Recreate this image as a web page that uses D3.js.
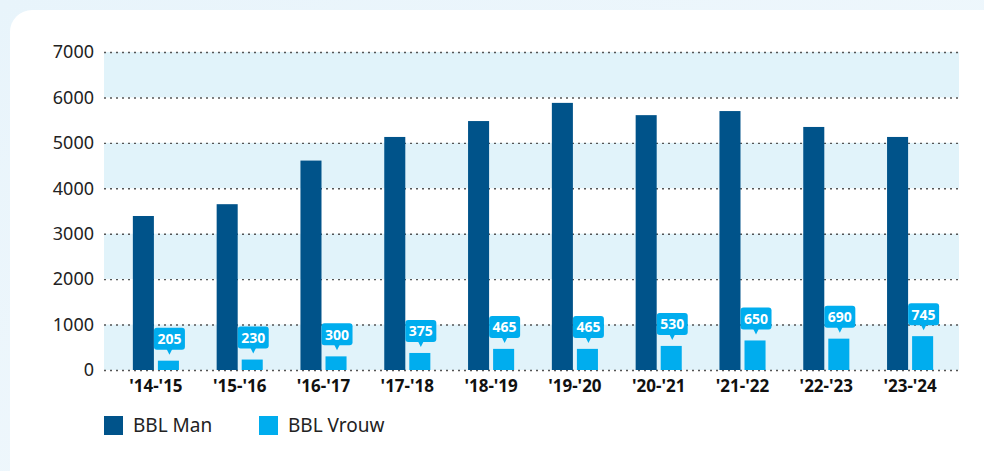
<!DOCTYPE html>
<html>
<head>
<meta charset="utf-8">
<script src="https://cdn.jsdelivr.net/npm/d3@7"></script>
<style>
  body { margin: 0; background: #eef7fc; font-family: "Noto Sans", sans-serif; }
</style>
</head>
<body>
<div id="chart"></div>
<script>
// seasons on the x axis, two series per season
const seasons = ["'14-'15", "'15-'16", "'16-'17", "'17-'18", "'18-'19", "'19-'20", "'20-'21", "'21-'22", "'22-'23", "'23-'24"];
const bblMan = [3390, 3650, 4610, 5130, 5480, 5880, 5610, 5700, 5350, 5130];
const bblVrouw = [205, 230, 300, 375, 465, 465, 530, 650, 690, 745];
const seriesNames = ["BBL Man", "BBL Vrouw"];
const yTicks = [0, 1000, 2000, 3000, 4000, 5000, 6000, 7000];

const W = 984, H = 471;
const colors = {"BBL Man": "#00538a", "BBL Vrouw": "#00adee"};

const svg = d3.select("#chart").append("svg")
    .attr("width", W)
    .attr("height", H);

// page background + white card
const defs = svg.append("defs");
const grad = defs.append("linearGradient").attr("id", "bg").attr("x1", 0).attr("y1", 0).attr("x2", 1).attr("y2", 1);
grad.append("stop").attr("offset", "0%").attr("stop-color", "#e8f4fb");
grad.append("stop").attr("offset", "100%").attr("stop-color", "#f3f9fd");
svg.append("rect").attr("width", W).attr("height", H).attr("fill", "url(#bg)");
svg.append("rect")
    .attr("x", 10).attr("y", 10)
    .attr("width", 1000).attr("height", 500)
    .attr("rx", 22)
    .attr("fill", "#ffffff");

// plot area
const plot = {left: 104, right: 959, top: 52, bottom: 370};

const y = d3.scaleLinear()
    .domain([0, 7000])
    .range([plot.bottom, plot.top]);

const x0 = d3.scaleBand()
    .domain(seasons)
    .range([114, 952])
    .paddingInner(0.45)
    .paddingOuter(0.225);

const x1 = d3.scaleBand()
    .domain(seriesNames)
    .range([0, x0.bandwidth()])
    .paddingInner(0.16);

// alternating shaded bands
const bands = d3.pairs(yTicks).filter((p, i) => i % 2 === 0);
svg.append("g").selectAll("rect")
    .data(bands)
    .join("rect")
    .attr("x", plot.left)
    .attr("width", plot.right - plot.left)
    .attr("y", d => y(d[1]))
    .attr("height", d => y(d[0]) - y(d[1]))
    .attr("fill", "#e1f3fa");

// y axis with dotted gridlines
const yAxis = svg.append("g")
    .attr("transform", `translate(${plot.left},0)`)
    .call(d3.axisLeft(y).tickValues(yTicks).tickFormat(d3.format("d")).tickSize(-(plot.right - plot.left)).tickPadding(10));
yAxis.select(".domain").remove();
yAxis.selectAll(".tick line")
    .attr("stroke", "#555")
    .attr("stroke-width", 1.4)
    .attr("stroke-dasharray", "2,4");
yAxis.selectAll(".tick text")
    .attr("fill", "#222")
    .style("font-size", "18px")
    .style("font-family", "Noto Sans");

// x axis labels
const xAxis = svg.append("g")
    .attr("transform", `translate(0,${plot.bottom})`)
    .call(d3.axisBottom(x0).tickSize(0).tickPadding(10));
xAxis.select(".domain").remove();
xAxis.selectAll(".tick text")
    .attr("fill", "#111")
    .style("font-size", "17px")
    .style("font-weight", "bold")
    .style("font-family", "Noto Sans");

// bars
const rows = seasons.map((s, i) => ({season: s, "BBL Man": bblMan[i], "BBL Vrouw": bblVrouw[i]}));

const groups = svg.append("g").selectAll("g")
    .data(rows)
    .join("g")
    .attr("transform", d => `translate(${x0(d.season)},0)`);

groups.selectAll("rect")
    .data(d => seriesNames.map(k => ({key: k, value: d[k]})))
    .join("rect")
    .attr("x", d => x1(d.key))
    .attr("width", x1.bandwidth())
    .attr("y", d => y(d.value))
    .attr("height", d => y(0) - y(d.value))
    .attr("fill", d => colors[d.key]);

// callout labels over the Vrouw bars
const callouts = groups.append("g")
    .attr("transform", d => `translate(${x1("BBL Vrouw") + x1.bandwidth() / 2 + 1},${y(d["BBL Vrouw"]) - 5})`);

callouts.append("rect")
    .attr("x", -15.5).attr("y", -28)
    .attr("width", 31).attr("height", 22)
    .attr("rx", 3)
    .attr("fill", "#00adee");
callouts.append("path")
    .attr("d", "M-3,-7 L0,-1 L3,-7 Z")
    .attr("fill", "#00adee");
callouts.append("text")
    .attr("y", -11.5)
    .attr("text-anchor", "middle")
    .attr("fill", "#fff")
    .style("font-size", "14px")
    .style("font-weight", "bold")
    .style("font-family", "Noto Sans")
    .text(d => d["BBL Vrouw"]);

// legend
const legend = svg.append("g").attr("transform", "translate(104,416)");
const legendX = [0, 155];
seriesNames.forEach((name, i) => {
    const item = legend.append("g").attr("transform", `translate(${legendX[i]},0)`);
    item.append("rect")
        .attr("width", 19).attr("height", 19)
        .attr("fill", colors[name]);
    item.append("text")
        .attr("x", 29)
        .attr("y", 16)
        .attr("fill", "#222")
        .style("font-size", "19px")
        .style("font-family", "Noto Sans")
        .text(name);
});
</script>
</body>
</html>
